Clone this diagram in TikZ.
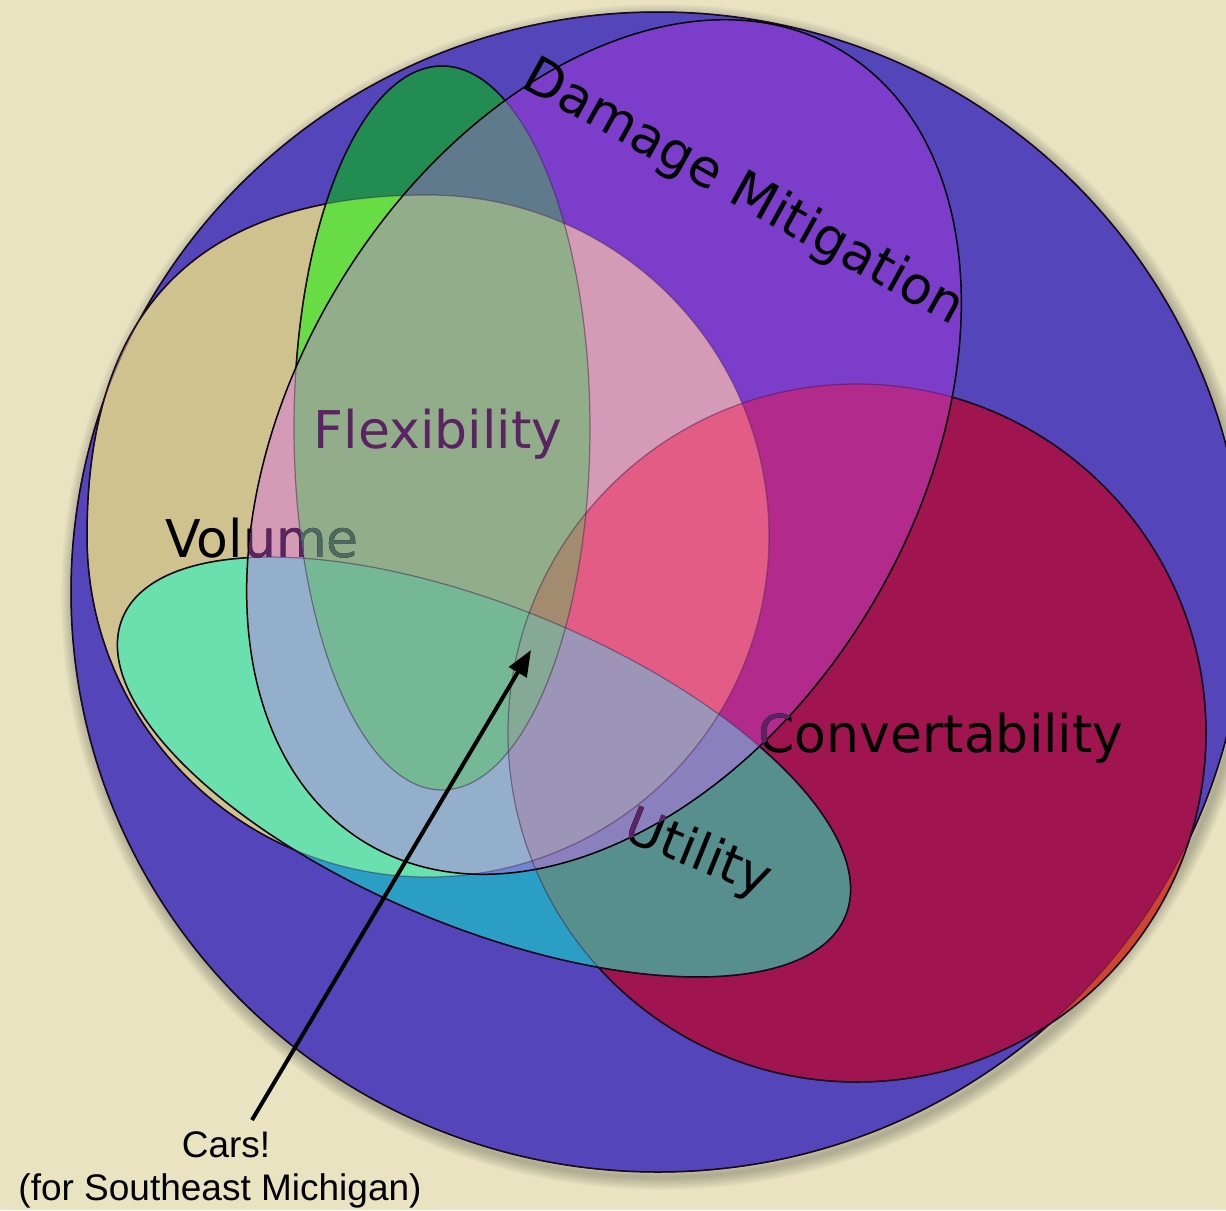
\documentclass[tikz,border=0pt]{standalone}
\usepackage{fontspec}
\setmainfont{DejaVu Sans}
\newfontfamily\helvfont{Liberation Sans}
\usetikzlibrary{arrows.meta}
\definecolor{bgc}{HTML}{E9E3C1}
\definecolor{cblue}{HTML}{5545BB}
\definecolor{convout}{HTML}{CF4430}
\definecolor{crimson}{HTML}{A0154F}
\definecolor{tanc}{HTML}{D0C28F}
\definecolor{volconv}{HTML}{C87A70}
\definecolor{cyanU}{HTML}{2A9EC4}
\definecolor{tealU}{HTML}{568F8E}
\definecolor{mintU}{HTML}{6AE0AE}
\definecolor{dgreen}{HTML}{228C52}
\definecolor{bgreen}{HTML}{67DC45}
\definecolor{purpleD}{HTML}{7B3DCA}
\definecolor{magD}{HTML}{B12A8C}
\definecolor{pinkD}{HTML}{D49AB6}
\definecolor{pinkredD}{HTML}{E25C86}
\definecolor{slateD}{HTML}{5F7A8D}
\definecolor{sageD}{HTML}{92AD8A}
\definecolor{brownD}{HTML}{A28B6E}
\definecolor{uD}{HTML}{6F86D4}
\definecolor{uconvD}{HTML}{8A80BE}
\definecolor{ulD}{HTML}{93AFCB}
\definecolor{ulconvD}{HTML}{9D95B8}
\definecolor{uflD}{HTML}{74B896}
\definecolor{uflconvD}{HTML}{86A997}
\definecolor{ptext}{HTML}{5A2462}
\definecolor{gtext}{HTML}{4A6B60}
\definecolor{fline}{HTML}{3A1446}
\newcommand\shC{(658,-592) ellipse [x radius=587, y radius=580]}
\newcommand\shV{(857,-733) circle [radius=349]}
\newcommand\shL{(428,-195) .. controls (616.3,-195) and (769,-347.7) .. (769,-536)
  .. controls (769,-724.3) and (616.3,-877) .. (428,-877)
  .. controls (239.7,-877) and (87,-724.3) .. (87,-536)
  .. controls (87,-307.5) and (199.5,-195) .. (428,-195) -- cycle}
\newcommand\shU{(484,-767) ellipse [x radius=391, y radius=160, rotate=-22.4]}
\newcommand\shF{(442,-428) ellipse [x radius=148, y radius=362]}
\newcommand\shD{(604,-447) ellipse [x radius=462, y radius=311, rotate=59]}
\newcommand\allarea{(0,0) rectangle (1226,-1210)}
\begin{document}
\begin{tikzpicture}[x=0.5pt,y=0.5pt,
  outline/.style={draw=black, line width=0.75pt},
  faint/.style={draw=fline, draw opacity=0.45, line width=0.6pt},
  lbl/.style={font=\fontsize{26pt}{31pt}\selectfont, inner sep=0pt, anchor=base},
  carslbl/.style={font=\helvfont\fontsize{18.5pt}{21.5pt}\selectfont, inner sep=0pt, anchor=base},
  pointer/.style={-{Triangle[length=13pt, width=10pt]}, line width=2pt, draw=black}]
\useasboundingbox \allarea;
\clip \allarea;
\fill[bgc] \allarea;
% soft shadow around the big circle
\foreach \k in {1,...,8} {
  \draw[black, opacity=0.03, line width=\k*1.6pt] (661,-597) ellipse [x radius=587, y radius=580];
}
% big circle
\fill[cblue] \shC;
\draw[outline] \shC;
% Convertability
\fill[convout] \shV;
\begin{scope}\clip \shC; \fill[crimson] \shV; \end{scope}
\draw[outline] \shV;
% Volume
\fill[tanc] \shL;
\begin{scope}\clip \shL; \fill[volconv] \shV; \end{scope}
\draw[outline] \shL;
% Utility
\fill[cyanU] \shU;
\begin{scope}\clip \shU; \fill[tealU] \shV; \end{scope}
\begin{scope}\clip \shU; \fill[mintU] \shL; \end{scope}
\draw[outline] \shU;
% Flexibility
\fill[dgreen] \shF;
\begin{scope}\clip \shF; \fill[bgreen] \shL; \end{scope}
\draw[outline] \shF;
% Damage Mitigation
\begin{scope}
  \clip \shD;
  \fill[purpleD] \allarea;
  \begin{scope}\clip \shV; \fill[magD] \allarea; \end{scope}
  \begin{scope}\clip \shU; \fill[uD] \allarea; \clip \shV; \fill[uconvD] \allarea; \end{scope}
  \begin{scope}\clip \shF; \fill[slateD] \allarea; \end{scope}
  \begin{scope}
    \clip \shL; \fill[pinkD] \allarea;
    \begin{scope}\clip \shV; \fill[pinkredD] \allarea; \end{scope}
    \begin{scope}\clip \shU; \fill[ulD] \allarea; \clip \shV; \fill[ulconvD] \allarea; \end{scope}
    \begin{scope}
      \clip \shF; \fill[sageD] \allarea;
      \begin{scope}\clip \shV; \fill[brownD] \allarea; \end{scope}
      \begin{scope}\clip \shU; \fill[uflD] \allarea; \clip \shV; \fill[uflconvD] \allarea; \end{scope}
    \end{scope}
  \end{scope}
\end{scope}
% faint traces of covered outlines
\draw[faint] \shC;
\draw[faint] \shV;
\draw[faint] \shL;
\draw[faint] \shU;
\draw[faint] \shF;
\draw[outline] \shD;
% labels
\node[lbl] (vol) at (262,-557) {Volume};
\begin{scope}
  \clip \shD;
  \node[lbl, text=ptext] (volD) at (262,-557) {Volume};
  \clip \shF;
  \node[lbl, text=gtext] (volDF) at (262,-557) {Volume};
\end{scope}
\node[lbl, text=ptext] (flex) at (438,-448) {Flexibility};
\node[lbl] (conv) at (941,-752) {Convertability};
\node[lbl, rotate=-22] (util) at (692,-868) {Utility};
\begin{scope}
  \clip \shD;
  \node[lbl, text=ptext] (convD) at (941,-752) {Convertability};
  \node[lbl, text=ptext, rotate=-22] (utilD) at (692,-868) {Utility};
\end{scope}
\node[lbl, rotate=-29] (dm) at (736,-206) {Damage Mitigation};
% cars label and arrow
\node[carslbl] (cars) at (226,-1157) {Cars!};
\node[carslbl] (carsb) at (220,-1200) {(for Southeast Michigan)};
\coordinate (astart) at (252,-1120);
\coordinate (tip) at (531,-650);
\draw[pointer] (astart) -- (tip);
\end{tikzpicture}
\end{document}
